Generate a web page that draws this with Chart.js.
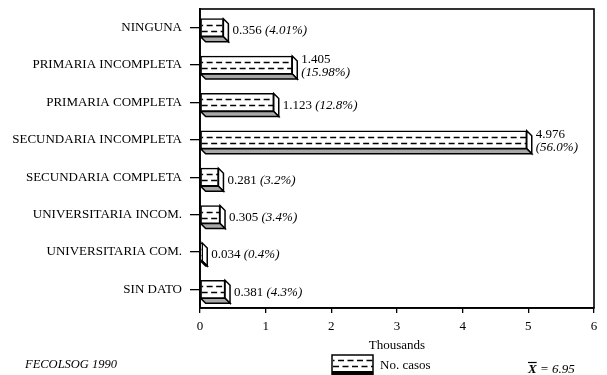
<!DOCTYPE html>
<html>
<head>
<meta charset="utf-8">
<script src="https://cdn.jsdelivr.net/npm/chart.js@4"></script>
<style>
    html, body { margin: 0; padding: 0; background: #fff; }
    #wrap { width: 607px; height: 375px; position: relative; }
</style>
</head>
<body>
<div id="wrap"><canvas id="chart"></canvas></div>
<script>
// 데이터 (천 단위)
const categories = [
    'NINGUNA',
    'PRIMARIA INCOMPLETA',
    'PRIMARIA COMPLETA',
    'SECUNDARIA INCOMPLETA',
    'SECUNDARIA COMPLETA',
    'UNIVERSITARIA INCOM.',
    'UNIVERSITARIA COM.',
    'SIN DATO'
];
const casos = [0.356, 1.405, 1.123, 4.976, 0.281, 0.305, 0.034, 0.381];
const valueLabels = ['0.356', '1.405', '1.123', '4.976', '0.281', '0.305', '0.034', '0.381'];
const percentLabels = ['(4.01%)', '(15.98%)', '(12.8%)', '(56.0%)', '(3.2%)', '(3.4%)', '(0.4%)', '(4.3%)'];
const xTicks = [0, 1, 2, 3, 4, 5, 6];
const seriesName = 'No. casos';
const axisTitle = 'Thousands';
const sourceNote = 'FECOLSOG 1990';
const meanValue = '6.95';

const SERIF = '"Liberation Serif", "Times New Roman", serif';
const DEPTH = 5;              // 3D 깊이
const WRAP_ROWS = [1, 3];     // 두 줄 라벨

Chart.defaults.font.family = SERIF;
Chart.defaults.color = '#000';

// 막대 안의 점선 무늬
function drawDashes(ctx, left, top, width, height) {
    ctx.save();
    ctx.beginPath();
    ctx.rect(left, top, width, height);
    ctx.clip();
    ctx.strokeStyle = '#000';
    ctx.lineWidth = 1.4;
    ctx.setLineDash([6, 3.5]);
    [1 / 3, 2 / 3].forEach((f, i) => {
        ctx.lineDashOffset = i ? 0 : 4.5;
        const y = Math.round(top + height * f) + 0.5;
        ctx.beginPath();
        ctx.moveTo(left + 1, y);
        ctx.lineTo(left + width, y);
        ctx.stroke();
    });
    ctx.restore();
}

// 3D 막대, 라벨, 테두리
const barDeco = {
    id: 'barDeco',
    beforeDatasetsDraw(chart) {
        const ctx = chart.ctx;
        const meta = chart.getDatasetMeta(0);
        ctx.save();
        ctx.strokeStyle = '#000';
        ctx.lineWidth = 1.5;
        meta.data.forEach(bar => {
            const { x, y, base, height } = bar.getProps(['x', 'y', 'base', 'height'], true);
            const top = y - height / 2;
            const bottom = y + height / 2;
            // 옆면
            ctx.beginPath();
            ctx.moveTo(x, top);
            ctx.lineTo(x + DEPTH, top + DEPTH);
            ctx.lineTo(x + DEPTH, bottom + DEPTH);
            ctx.lineTo(x, bottom);
            ctx.closePath();
            ctx.fillStyle = '#fff';
            ctx.fill();
            ctx.stroke();
            // 아랫면
            ctx.beginPath();
            ctx.moveTo(base, bottom);
            ctx.lineTo(x, bottom);
            ctx.lineTo(x + DEPTH, bottom + DEPTH);
            ctx.lineTo(base + DEPTH, bottom + DEPTH);
            ctx.closePath();
            ctx.fillStyle = '#a8a8a8';
            ctx.fill();
            ctx.stroke();
        });
        ctx.restore();
    },
    afterDatasetsDraw(chart) {
        const ctx = chart.ctx;
        const meta = chart.getDatasetMeta(0);
        meta.data.forEach((bar, i) => {
            const { x, y, base, height } = bar.getProps(['x', 'y', 'base', 'height'], true);
            drawDashes(ctx, base, y - height / 2, x - base, height);

            // 값 라벨
            ctx.save();
            ctx.fillStyle = '#000';
            ctx.textBaseline = 'middle';
            ctx.textAlign = 'left';
            const lx = x + DEPTH + 4;
            ctx.font = '13px ' + SERIF;
            if (WRAP_ROWS.includes(i)) {
                ctx.fillText(valueLabels[i], lx, y - 5);
                ctx.font = 'italic 13px ' + SERIF;
                ctx.fillText(percentLabels[i], lx, y + 8);
            } else {
                const txt = valueLabels[i] + ' ';
                ctx.fillText(txt, lx, y + 3);
                const w = ctx.measureText(txt).width;
                ctx.font = 'italic 13px ' + SERIF;
                ctx.fillText(percentLabels[i], lx + w, y + 3);
            }
            ctx.restore();
        });
    },
    afterDraw(chart) {
        const ctx = chart.ctx;
        const a = chart.chartArea;
        ctx.save();
        ctx.strokeStyle = '#000';
        ctx.lineWidth = 1.6;
        ctx.strokeRect(a.left, a.top, a.right - a.left, a.bottom - a.top);

        // 범례
        const bx = 332, by = 355, bw = 41, bh = 20;
        ctx.fillStyle = '#fff';
        ctx.fillRect(bx, by, bw, bh);
        drawDashes(ctx, bx, by, bw, bh - 4);
        ctx.fillStyle = '#000';
        ctx.fillRect(bx, by + bh - 4, bw, 4);
        ctx.lineWidth = 1.5;
        ctx.strokeRect(bx, by, bw, bh);

        ctx.textBaseline = 'alphabetic';
        ctx.textAlign = 'left';
        ctx.font = '13px ' + SERIF;
        ctx.fillText(seriesName, 380, 369);

        // 출처
        ctx.font = 'italic 12.5px ' + SERIF;
        ctx.fillText(sourceNote, 25, 368);

        // 평균
        ctx.font = 'bold italic 13px ' + SERIF;
        ctx.fillText('X', 528, 373);
        const xw = ctx.measureText('X').width;
        ctx.lineWidth = 1.2;
        ctx.beginPath();
        ctx.moveTo(528, 362.5);
        ctx.lineTo(528 + xw, 362.5);
        ctx.stroke();
        ctx.font = 'italic 13px ' + SERIF;
        ctx.fillText(' = ' + meanValue, 528 + xw, 373);
        ctx.restore();
    }
};

const ctx = document.getElementById('chart').getContext('2d');
new Chart(ctx, {
    type: 'bar',
    data: {
        labels: categories,
        datasets: [{
            label: seriesName,
            data: casos,
            backgroundColor: '#fff',
            borderColor: '#000',
            borderWidth: 1.5,
            borderSkipped: false,
            barThickness: 18
        }]
    },
    options: {
        indexAxis: 'y',
        responsive: true,
        maintainAspectRatio: false,
        animation: false,
        layout: {
            padding: { top: 9, right: 13, bottom: 22, left: 0 }
        },
        plugins: {
            legend: { display: false },
            tooltip: { enabled: false }
        },
        scales: {
            x: {
                min: 0,
                max: 6,
                afterBuildTicks: scale => {
                    scale.ticks = xTicks.map(v => ({ value: v }));
                },
                afterFit: scale => { scale.height = 45; },
                ticks: {
                    font: { size: 13 },
                    padding: 6,
                    color: '#000'
                },
                grid: {
                    display: true,
                    drawOnChartArea: false,
                    drawTicks: true,
                    tickLength: 5,
                    color: '#000',
                    lineWidth: 1.3
                },
                border: { display: true, color: '#000', width: 1.8 },
                title: {
                    display: true,
                    text: axisTitle,
                    font: { size: 13 },
                    color: '#000',
                    padding: { top: 3, bottom: 0 }
                }
            },
            y: {
                afterFit: scale => {
                    scale.width = 200;
                    scale.paddingTop = 0;
                    scale.paddingBottom = 0;
                },
                ticks: {
                    font: { size: 13 },
                    padding: 8,
                    color: '#000'
                },
                grid: {
                    display: true,
                    drawOnChartArea: false,
                    drawTicks: true,
                    tickLength: 10,
                    offset: false,
                    color: '#000',
                    lineWidth: 1.3
                },
                border: { display: true, color: '#000', width: 1.8 }
            }
        }
    },
    plugins: [barDeco]
});
</script>
</body>
</html>
